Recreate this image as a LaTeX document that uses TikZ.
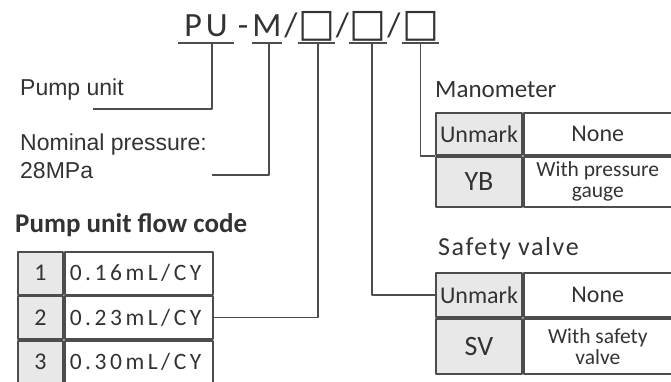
\documentclass[tikz,border=0pt]{standalone}
\usepackage{fontspec}
\setmainfont{Carlito}
\newfontfamily\labelfont{Liberation Sans}
\newfontfamily\boxfont{DejaVu Sans}
\usetikzlibrary{positioning}

\definecolor{codetext}{HTML}{333333}
\definecolor{codeline}{HTML}{4D4D4D}
\definecolor{codefill}{HTML}{E8E8E8}

\begin{document}
\begin{tikzpicture}[
  x=1pt,
  y=-1pt,
  line join=round,
  link/.style={draw=codeline,line width=1.8pt},
  titlepart/.style={anchor=south,inner xsep=0pt,inner ysep=6pt,text depth=0pt,
    text=codetext,font=\fontsize{34}{34}\selectfont},
  boxpart/.style={titlepart,font=\boxfont\fontsize{39}{39}\selectfont},
  sidelabel/.style={inner sep=0pt,text=codetext,font=\labelfont\fontsize{23}{23}\selectfont},
  headlabel/.style={inner sep=0pt,text=codetext,font=\fontsize{25}{25}\selectfont},
  codecell/.style={draw=codeline,line width=1.8pt,fill=codefill,inner sep=0pt,
    text=codetext,font=\fontsize{24}{24}\selectfont},
  flowcell/.style={draw=codeline,line width=1.8pt,inner xsep=5pt,inner ysep=0pt,
    minimum width=148pt,minimum height=42.5pt,text width=138pt,align=left,
    text=codetext,font=\addfontfeature{LetterSpace=15}\fontsize{23.5}{23.5}\selectfont},
  optcell/.style={draw=codeline,line width=1.8pt,inner sep=0pt,minimum width=148pt,
    align=center,text=codetext,font=\fontsize{21.5}{21}\selectfont}
]
  % Fix the artwork frame.
  \useasboundingbox (0,0) rectangle (671,381);

  % Order code in the title line.
  \node[titlepart,minimum width=56pt] (pu) at (206,43) {\addfontfeature{LetterSpace=12}PU};
  \node[titlepart] (dash) at (243,43) {-};
  \node[titlepart,minimum width=30pt] (mp) at (267,43) {M};
  \node[titlepart] (sl1) at (291,43) {/};
  \node[boxpart,minimum width=33pt] (box1) at (316.5,43) {□};
  \node[titlepart] (sl2) at (342.5,43) {/};
  \node[boxpart,minimum width=32pt] (box2) at (368,43) {□};
  \node[titlepart] (sl3) at (394,43) {/};
  \node[boxpart,minimum width=35pt] (box3) at (420.5,43) {□};
  \foreach \p in {pu,mp,box1,box2,box3} {
    \draw[link] (\p.south west) -- (\p.south east);
  }

  % Left hand labels.
  \node[sidelabel,anchor=base west] (pumplabel) at (20,95) {Pump unit};
  \node[sidelabel,anchor=base west] (preslabel) at (20,150) {Nominal pressure:};
  \node[sidelabel,anchor=base west] (presvalue) at (20,178) {28MPa};
  \coordinate (pumpend) at (93,109);
  \coordinate (presend) at (212,175);

  % Pump unit flow code table.
  \node[headlabel,anchor=base west,font=\bfseries\fontsize{27}{27}\selectfont] (flowlabel) at (15,232) {Pump unit flow code};
  \node[codecell,minimum width=45pt,minimum height=42.5pt] (f1) at (40.5,273.25) {1};
  \node[flowcell,right=0pt of f1] (v1) {0.16mL/CY};
  \node[codecell,minimum width=45pt,minimum height=42.5pt,below=0pt of f1] (f2) {2};
  \node[flowcell,right=0pt of f2] (v2) {0.23mL/CY};
  \node[codecell,minimum width=45pt,minimum height=42.5pt,below=0pt of f2] (f3) {3};
  \node[flowcell,right=0pt of f3] (v3) {0.30mL/CY};

  % Manometer table.
  \node[headlabel,anchor=base west] (manolabel) at (435,97) {Manometer};
  \node[codecell,minimum width=86pt,minimum height=42pt] (m1) at (479,134) {Unmark};
  \node[optcell,minimum height=42pt,right=0pt of m1,font=\fontsize{24}{24}\selectfont] (n1) {None};
  \node[codecell,minimum width=86pt,minimum height=50pt,below=0pt of m1,
    font=\fontsize{28}{28}\selectfont] (m2) {YB};
  \node[optcell,minimum height=50pt,right=0pt of m2] (n2) {With pressure\\gauge};

  % Safety valve table.
  \node[headlabel,anchor=base west,font=\addfontfeature{LetterSpace=6}\fontsize{26}{26}\selectfont] (safelabel) at (438,255) {Safety valve};
  \node[codecell,minimum width=86pt,minimum height=44pt] (s1) at (479,295) {Unmark};
  \node[optcell,minimum height=44pt,right=0pt of s1,font=\fontsize{24}{24}\selectfont] (t1) {None};
  \node[codecell,minimum width=86pt,minimum height=55pt,below=0pt of s1,
    font=\fontsize{28}{28}\selectfont] (s2) {SV};
  \node[optcell,minimum height=55pt,right=0pt of s2] (t2) {With safety\\valve};

  % Leader lines from each code part.
  \draw[link] ([xshift=6pt]pu.south) |- (pumpend);
  \draw[link] ([xshift=2pt]mp.south) |- (presend);
  \draw[link] ([xshift=1.5pt]box1.south) |- (v2.east);
  \draw[link] ([xshift=4pt]box2.south) |- (s1.west);
  \draw[link] (box3.south) |- (m1.south west);
\end{tikzpicture}
\end{document}
